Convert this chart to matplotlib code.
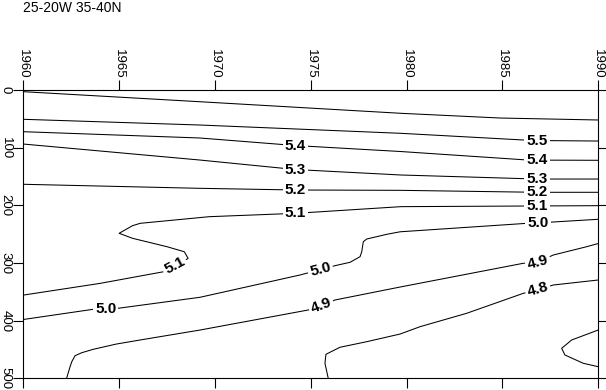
import matplotlib
matplotlib.use('Agg')
import matplotlib.pyplot as plt
import numpy as np

plt.rcParams['font.family'] = ['Liberation Sans', 'DejaVu Sans']

title = '25-20W 35-40N'
year_ticks = [1960, 1965, 1970, 1975, 1980, 1985, 1990]
depth_ticks = [0, 100, 200, 300, 400, 500]

# contour lines: (year, depth) vertices per level
yr_56 = [1960, 1969.2, 1979.7, 1984.9, 1990]
dep_56 = [2.9, 20.3, 40.4, 48.6, 52.0]

yr_55 = [1960, 1969.2, 1979.7, 1986.1, 1986.8, 1990]
dep_55 = [50.8, 60.7, 75.1, 86.7, 87.6, 88.5]

yr_54 = [1960, 1969.2, 1974.2, 1979.7, 1986.3, 1986.8, 1990]
dep_54 = [72.3, 83.2, 96.3, 106.7, 121.4, 121.6, 121.9]

yr_53 = [1960, 1969.2, 1974.2, 1979.7, 1986.8, 1990]
dep_53 = [93.7, 121.4, 137.9, 147.4, 154.4, 154.4]

yr_52 = [1960, 1969.2, 1974.2, 1979.7, 1986.8, 1990]
dep_52 = [163.5, 170.5, 173.4, 174.0, 177.4, 177.4]

yr_51 = [1960, 1964.0, 1967.3, 1967.9, 1968.6, 1968.5, 1968.4, 1967.5, 1965.7,
         1965.0, 1965.7, 1966.1, 1969.7, 1974.2, 1979.7, 1986.8, 1990]
dep_51 = [355.7, 335.4, 315.3, 305.0, 292.1, 286.2, 280.5, 271.8, 257.2,
          248.5, 235.3, 231.2, 219.7, 213.9, 202.3, 201.1, 200.6]

yr_50 = [1960, 1963.65, 1964.3, 1964.94, 1969.22, 1974.44, 1975.5, 1976.26, 1977.05,
         1977.57, 1977.66, 1977.74, 1977.92, 1978.96, 1979.66, 1986.28, 1986.85, 1990]
dep_50 = [398.0, 380.3, 379.5, 378.6, 359.5, 320.8, 311.5, 304.7, 298.8,
          289.1, 280.4, 263.1, 258.4, 250.3, 245.9, 231.2, 230.5, 224.2]

yr_49 = [1962.26, 1962.44, 1962.53, 1962.70, 1963.05, 1963.65, 1964.87, 1966.09, 1969.22,
         1974.87, 1975.55, 1976.26, 1979.66, 1986.09, 1986.85, 1987.65, 1989.39, 1990]
dep_49 = [500, 479.9, 471.2, 460.8, 455.6, 449.7, 440.5, 433.6, 416.3,
          381.5, 374.5, 364.2, 341.7, 300.5, 298.3, 286.2, 271.8, 266.2]

yr_48 = [1975.91, 1975.74, 1975.79, 1976.52, 1977.92, 1979.66, 1980.70, 1983.13,
         1986.09, 1986.85, 1987.65, 1990]
dep_48 = [500, 474, 458.4, 446.2, 436.5, 423.2, 410.5, 387.3, 352.6, 346.5, 338.2, 329.5]

yr_47 = [1990, 1988.61, 1988.09, 1988.26, 1989.22, 1990]
dep_47 = [416.2, 433.6, 448.0, 459.6, 474.0, 479.9]

levels = ['5.6', '5.5', '5.4', '5.3', '5.2', '5.1', '5.0', '4.9', '4.8', '4.7']
years = [yr_56, yr_55, yr_54, yr_53, yr_52, yr_51, yr_50, yr_49, yr_48, yr_47]
depths = [dep_56, dep_55, dep_54, dep_53, dep_52, dep_51, dep_50, dep_49, dep_48, dep_47]
# vertex index where each level gets its label
label_at = [[], [4], [2, 5], [2, 4], [2, 4], [3, 13, 15], [2, 6, 16], [10, 14], [9], []]

fig = plt.figure(figsize=(6.06, 3.90), dpi=100)
ax = fig.add_axes([0.03845, 0.0300, 0.9488, 0.7392])
ax.set_xlim(1960, 1990)
ax.set_ylim(500, 0)

for lev, xs, ys, idxs in zip(levels, years, depths, label_at):
    ax.plot(xs, ys, color='black', linewidth=0.75, zorder=2)
    for i in idxs:
        p0 = ax.transData.transform((xs[i - 1], ys[i - 1]))
        p1 = ax.transData.transform((xs[i + 1], ys[i + 1]))
        ang = np.degrees(np.arctan2(p1[1] - p0[1], p1[0] - p0[0]))
        if ang > 90:
            ang -= 180
        if ang < -90:
            ang += 180
        if abs(ang) < 5:
            ang = 0
        ax.text(xs[i], ys[i], lev, ha='center', va='center', rotation=ang,
                rotation_mode='anchor', fontsize=11, fontweight='bold',
                bbox=dict(fc='white', ec='none', pad=1.5), zorder=3)

ax.set_xticks(year_ticks)
ax.set_yticks(depth_ticks)
ax.xaxis.tick_top()
ax.tick_params(axis='x', top=True, bottom=True, labeltop=True, labelbottom=False,
               direction='out', length=7, width=0.8, labelrotation=-90,
               labelsize=9.5, pad=1)
ax.tick_params(axis='y', left=True, right=True, labelleft=True, labelright=False,
               direction='out', length=7, width=0.8, labelrotation=-90,
               labelsize=9.5, pad=1.5)
for t in ax.get_yticklabels():
    t.set_va('center')
for s in ax.spines.values():
    s.set_linewidth(0.8)

fig.text(23 / 606, 1 - 8 / 390, title, ha='left', va='center', fontsize=10)

fig.savefig('out.png', dpi=100)
